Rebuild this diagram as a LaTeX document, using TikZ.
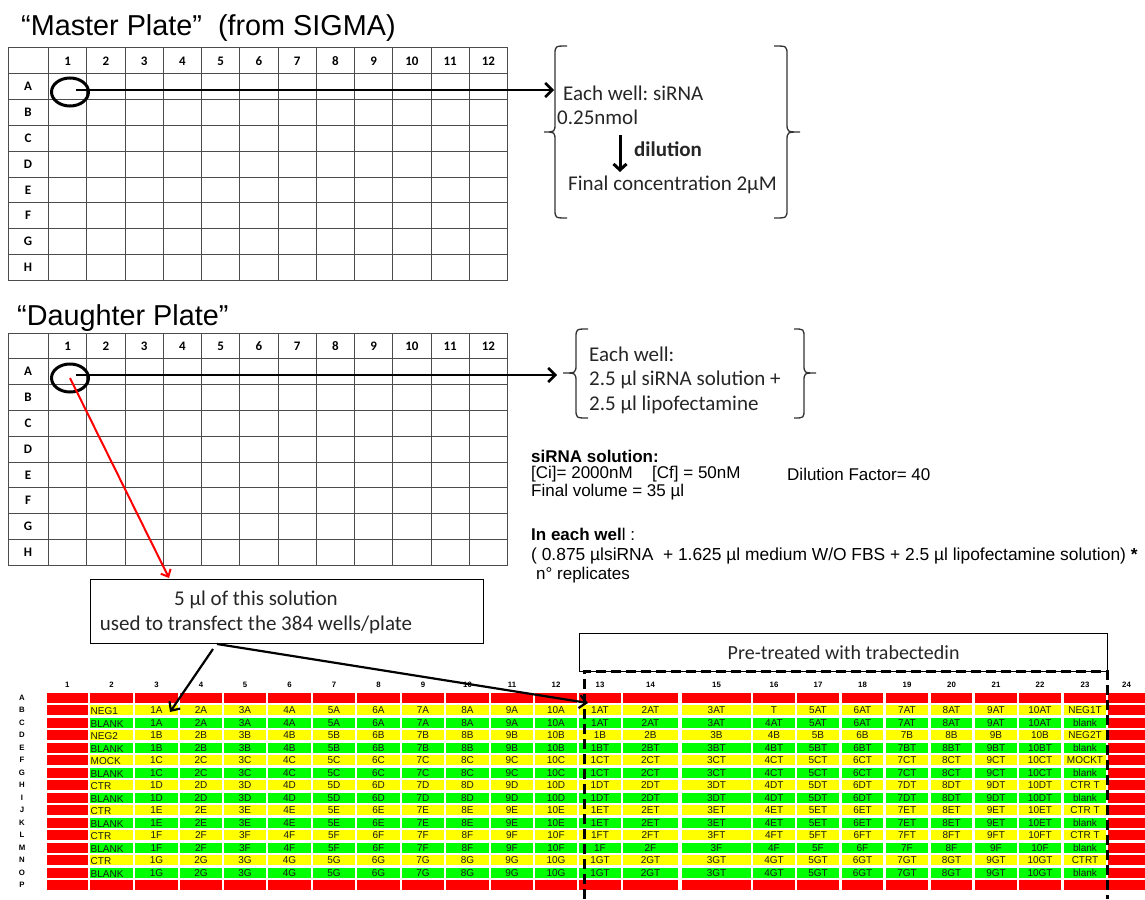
\documentclass[tikz,border=0pt]{standalone}
\usepackage{fontspec}
\setmainfont{Liberation Sans}
\newfontfamily\calib{Carlito}
\usetikzlibrary{arrows.meta,shapes.geometric}
\definecolor{wr}{RGB}{255,0,0}
\definecolor{wy}{RGB}{255,255,0}
\definecolor{wg}{RGB}{0,255,0}
\newcommand\drawbrace[6]{%
  \draw[brace] (#2,#4) .. controls (#1,#4) .. (#1,#4+9) -- (#1,#5-9) .. controls (#1,#5) .. (#3,#5) .. controls (#1,#5) .. (#1,#5+9) -- (#1,#6-9) .. controls (#1,#6) .. (#2,#6);}
\def\CS{{0,46.7,90,135,180,224,268,313,357,402,446,491,535,579,623,682,753,797,842,886,931,975,1019,1064,1108}}
\def\CE{{0,88,133,178,222,266,311,355,400,444,489,533,577,621,678,751,795,839,883,928,972,1017,1061,1106,1145}}
\newcommand\colmid[2]{\pgfmathsetmacro\cmA{\CS[#2]}\pgfmathsetmacro\cmB{\CE[#2]}\pgfmathsetmacro#1{(\cmA+\cmB)/2}}
\begin{document}
\frenchspacing
\begin{tikzpicture}[x=1pt,y=-1pt,
  grid/.style={draw=black!70, line width=1},
  hdr/.style={font=\calib\bfseries\fontsize{13}{13}\selectfont, inner sep=0},
  cal/.style={font=\calib\fontsize{21}{25}\selectfont, inner sep=0, anchor=west, text=black!85},
  ar/.style={font=\fontsize{17}{20}\selectfont, inner sep=0, anchor=west},
  ttl/.style={font=\fontsize{28.8}{32}\selectfont, inner sep=0, anchor=west},
  cell/.style={font=\fontsize{10}{10}\selectfont, inner sep=0, text=black!90},
  lbl/.style={font=\bfseries\fontsize{7.8}{8}\selectfont, inner sep=0},
  well/.style={ellipse, draw, line width=3, minimum width=37pt, minimum height=28pt, inner sep=0},
  conn/.style={line width=2.5, -{Straight Barb[length=7pt,width=14pt]}},
  brace/.style={line width=1.3, black!80},
  tbox/.style={draw, line width=1.2, inner sep=0, align=center, font=\calib\fontsize{21}{25}\selectfont, text=black!85}
]
\useasboundingbox (0,0) rectangle (1145,899);
\fill[white] (0,0) rectangle (1145,899);

% ---------------- Master plate
\node[ttl] (mtitle) at (21,28) {“Master Plate”\ \ (from SIGMA)};
\foreach \i in {0,...,12} \draw[grid] (48.5+\i*38.25,48) -- (48.5+\i*38.25,280.2);
\draw[grid] (8,48) -- (8,280.2);
\foreach \j in {0,...,9} \draw[grid] (8,48+\j*25.8) -- (507.5,48+\j*25.8);
\foreach \i in {1,...,12} \node[hdr] (mh\i) at (48.5+\i*38.25-19.125,61.5) {\i};
\foreach \r [count=\j] in {A,B,C,D,E,F,G,H} \node[hdr] (mr\r) at (28,48+\j*25.8+12.9) {\r};
\node[well] (mw) at (70,92) {};
\coordinate (mend) at (554,90);
\draw[conn] ([xshift=6pt,yshift=2pt]mw.center) -- (mend);
\drawbrace{555}{567}{544}{46}{132}{218}
\drawbrace{787}{774}{800}{46}{132}{218}
\node[cal] (mt1) at (563,93) {Each well: siRNA};
\node[cal] (mt2) at (557,117) {0.25nmol};
\node[cal,font=\calib\bfseries\fontsize{21}{25}\selectfont] (mt3) at (634,149) {dilution};
\node[cal] (mt4) at (568,185) {Final concentration 2µM};
\coordinate (da1) at (620,135);
\coordinate (da2) at (620,172);
\draw[line width=3, -{Straight Barb[length=6pt,width=13pt]}] (da1) -- (da2);

% ---------------- Daughter plate
\node[ttl] (dtitle) at (17,318) {“Daughter Plate”};
\foreach \i in {0,...,12} \draw[grid] (48.5+\i*38.25,333) -- (48.5+\i*38.25,565.2);
\draw[grid] (8,333) -- (8,565.2);
\foreach \j in {0,...,9} \draw[grid] (8,333+\j*25.8) -- (507.5,333+\j*25.8);
\foreach \i in {1,...,12} \node[hdr] (dh\i) at (48.5+\i*38.25-19.125,346.5) {\i};
\foreach \r [count=\j] in {A,B,C,D,E,F,G,H} \node[hdr] (dr\r) at (28,333+\j*25.8+12.9) {\r};
\node[well] (dw) at (70,378) {};
\coordinate (dend) at (557,375);
\draw[conn] ([xshift=6pt,yshift=3pt]dw.center) -- (dend);
\drawbrace{576}{588}{563}{329}{373}{418}
\drawbrace{804}{794}{816}{329}{373}{418}
\node[cal] (dt1) at (589,354) {Each well:};
\node[cal] (dt2) at (589,380) {2.5 µl siRNA solution +};
\node[cal] (dt3) at (589,405) {2.5 µl lipofectamine};

% ---------------- siRNA solution text
\node[ar,font=\bfseries\fontsize{17}{20}\selectfont] (s1) at (531,456) {siRNA solution:};
\node[ar] (s2) at (531,474) {[Ci]= 2000nM};
\node[ar] (s3) at (652,474) {[Cf] = 50nM};
\node[ar] (s4) at (787,474) {Dilution Factor= 40};
\node[ar] (s5) at (531,492) {Final volume = 35 µl};
\node[ar] (s6) at (531,534) {{\bfseries In each wel}l :};
\node[ar,font=\fontsize{17.4}{20}\selectfont] (s7) at (531,556) {( 0.875 µlsiRNA\ \ + 1.625 µl medium W/O FBS + 2.5 µl lipofectamine solution) \textbf{*}};
\node[ar] (s8) at (536,575) {n° replicates};

% ---------------- transfer box
\node[draw, line width=1.2, minimum width=393pt, minimum height=64pt, anchor=north west, inner sep=0] (sbox) at (90,579) {};
\node[tbox, draw=none] (stxt) at (256,612) {5 µl of this solution\\used to transfect the 384 wells/plate};
\coordinate (rtip) at (169,578);
\draw[wr, line width=2, -{Straight Barb[length=6pt,width=11pt]}] (dw.center) -- (rtip);

% ---------------- 384-well plate
\node[tbox, font=\calib\fontsize{20}{24}\selectfont, minimum width=528pt, minimum height=38pt, anchor=north west] (pbox) at (579,633) {Pre-treated with trabectedin};

\foreach \r in {1,...,16}{
  \foreach \c in {1,...,24}{
    \pgfmathsetmacro\xa{\CS[\c]}
    \pgfmathsetmacro\xb{\CE[\c]}
    \pgfmathsetmacro\ya{692.7+(\r-1)*12.49}
    \ifnum\r=1 \def\cc{wr}\else\ifnum\r=16 \def\cc{wr}\else\ifnum\c=1 \def\cc{wr}\else\ifnum\c=24 \def\cc{wr}\else\ifodd\r \def\cc{wg}\else\def\cc{wy}\fi\fi\fi\fi\fi
    \fill[\cc] (\xa,\ya) rectangle (\xb,\ya+10);
  }
}
\foreach \c in {1,...,24}{
  \colmid{\xm}{\c}
  \node[lbl] (ch\c) at (\xm,685) {\c};
}
\foreach \r [count=\j] in {A,B,C,D,E,F,G,H,I,J,K,L,M,N,O,P}{
  \node[lbl] (rl\r) at (22,692.7+\j*12.49-12.49+5) {\r};
}
\foreach \r/\ltr/\suf/\lbA/\lbB in {2/A/T/NEG1/NEG1T, 3/A/T/BLANK/blank, 4/B//NEG2/NEG2T, 5/B/T/BLANK/blank, 6/C/T/MOCK/MOCKT, 7/C/T/BLANK/blank, 8/D/T/CTR/CTR T, 9/D/T/BLANK/blank, 10/E/T/CTR/CTR T, 11/E/T/BLANK/blank, 12/F/T/CTR/CTR T, 13/F//BLANK/blank, 14/G/T/CTR/CTRT, 15/G/T/BLANK/blank}{
  \pgfmathsetmacro\ym{692.7+(\r-1)*12.49+5.2}
  \node[cell, anchor=west] (t\r-2) at (90.5,\ym+0.8) {\lbA};
  \colmid{\xm}{23}
  \node[cell] (t\r-23) at (\xm,\ym) {\lbB};
  \foreach \k in {1,...,10}{
    \pgfmathtruncatemacro\ca{\k+2}
    \pgfmathtruncatemacro\cb{\k+12}
    \colmid{\xa}{\ca}
    \colmid{\xb}{\cb}
    \node[cell] (t\r-\ca) at (\xa,\ym) {\k\ltr};
    \ifnum\r=2 \ifnum\k=4 \def\tx{T}\else\def\tx{\k\ltr\suf}\fi\else\def\tx{\k\ltr\suf}\fi
    \node[cell] (t\r-\cb) at (\xb,\ym) {\tx};
  }
}
\draw[line width=3, dash pattern=on 10pt off 5pt] (584,899) -- (584,671) -- (1107,671) -- (1107,899);

% ---------------- arrows into the 384-well plate
\coordinate (b1) at (213,649);
\coordinate (t1) at (170,712);
\coordinate (b2) at (217,644);
\coordinate (t2) at (588,703);
\draw[line width=2.2, -{Straight Barb[length=7pt,width=13pt]}] (b1) -- (t1);
\draw[line width=2.2, -{Straight Barb[length=7pt,width=13pt]}] (b2) -- (t2);
\end{tikzpicture}
\end{document}
